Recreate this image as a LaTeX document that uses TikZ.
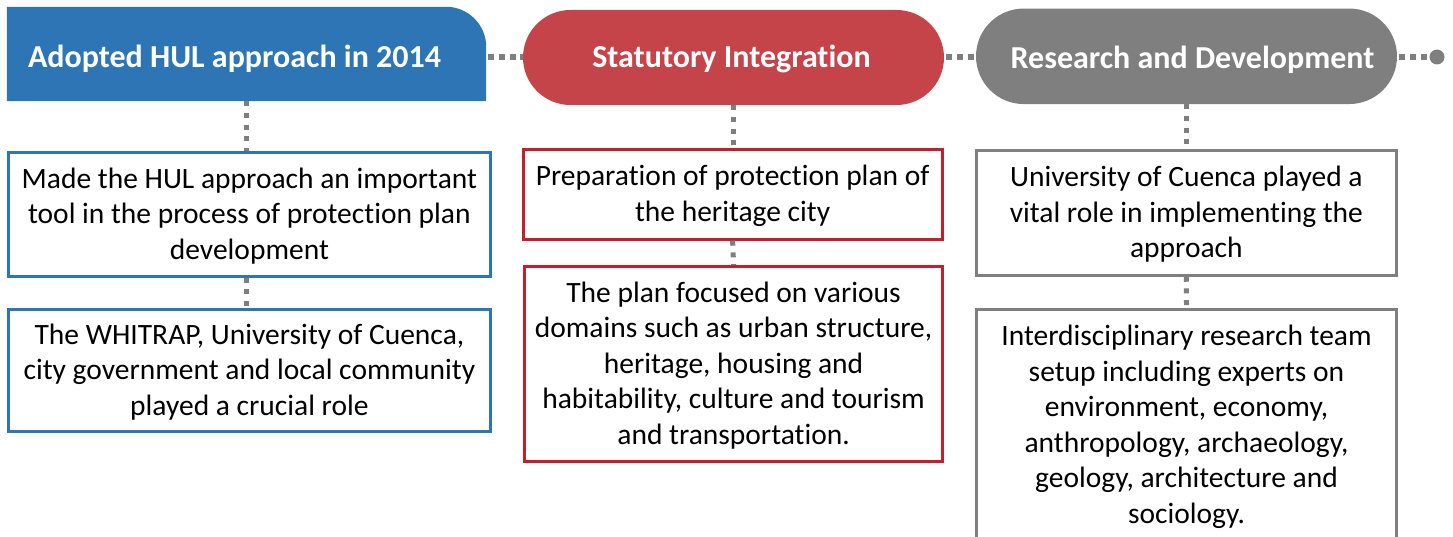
\documentclass[tikz,border=0pt]{standalone}
\usepackage{fontspec}
\setmainfont{Carlito}[Ligatures=NoCommon]
\usetikzlibrary{shapes.misc}
\definecolor{hulblue}{HTML}{2E75B6}
\definecolor{hulred}{HTML}{C44449}
\definecolor{hulredline}{HTML}{C3202F}
\definecolor{hulgray}{HTML}{7F7F7F}
\begin{document}
\begin{tikzpicture}[x=1pt,y=-1pt,
  headtext/.style={font=\fontsize{32}{38}\selectfont\bfseries, text=white, inner sep=0, anchor=base},
  pill/.style={rounded rectangle, minimum width=421pt, minimum height=95pt, inner sep=0},
  textbox/.style={draw, line width=3pt, inner sep=0},
  bodytext/.style={align=center, inner sep=0, font=\fontsize{29.5}{35.5}\selectfont},
  hdots/.style={draw=hulgray, line width=6pt, dash pattern=on 6pt off 4.7pt, dash phase=8.7pt},
  vdots/.style={draw=hulgray, line width=5pt, dash pattern=on 5pt off 6.7pt, dash phase=11.7pt},
]
\useasboundingbox (0,0) rectangle (1453,537);
\clip (0,0) rectangle (1453,537);

% headers
\node (h1) [minimum width=479pt, minimum height=94pt, inner sep=0] at (246.5,54) {};
\fill[hulblue] (h1.south west) -- (h1.north west) -- ([xshift=-40pt]h1.north east)
  .. controls ([xshift=-18pt]h1.north east) and ([yshift=-18pt]h1.north east) .. ([yshift=-40pt]h1.north east)
  -- (h1.south east) -- cycle;
\node (t1) [headtext] at (234.5,67.5) {Adopted HUL approach in 2014};

\node (h2) [pill, fill=hulred] at (733.5,57.5) {};
\node (t2) [headtext] at (731.5,68) {Statutory Integration};

\node (h3) [pill, fill=hulgray, minimum height=95.5pt] at (1186.5,56.3) {};
\node (t3) [headtext] at (1192.5,68.5) {Research and Development};

\node (endc) [circle, fill=hulgray, minimum size=15pt, inner sep=0] at (1437,57) {};

% text boxes
\node (A) [textbox, draw=hulblue, minimum width=481.7pt, minimum height=123.7pt] at (249.4,214.4) {};
\node (tA) [bodytext] at ([yshift=-1.5pt]A.center)
  {Made the HUL approach an important\\tool in the process of protection plan\\development};
\node (B) [textbox, draw=hulblue, minimum width=481.7pt, minimum height=122pt] at (249.4,370.2) {};
\node (tB) [bodytext] at ([yshift=-1.5pt]B.center)
  {The WHITRAP, University of Cuenca,\\city government and local community\\played a crucial role};
\node (C) [textbox, draw=hulredline, minimum width=418.8pt, minimum height=89.4pt] at (732.6,194.5) {};
\node (tC) [bodytext] at ([yshift=-1.5pt]C.center)
  {Preparation of protection plan of\\the heritage city};
\node (D) [textbox, draw=hulredline, minimum width=417.7pt, minimum height=194.7pt] at (733.6,363.9) {};
\node (tD) [bodytext] at ([yshift=-1.5pt]D.center)
  {The plan focused on various\\domains such as urban structure,\\heritage, housing and\\habitability, culture and tourism\\and transportation.};
\node (E) [textbox, draw=hulgray, minimum width=419.7pt, minimum height=124.7pt] at (1186.4,212.9) {};
\node (tE) [bodytext] at ([yshift=-1.5pt]E.center)
  {University of Cuenca played a\\vital role in implementing the\\approach};
\node (F) [textbox, draw=hulgray, minimum width=420pt, minimum height=232pt] at (1186.5,425.5) {};
\node (tF) [bodytext] at ([yshift=-1.5pt]F.center)
  {Interdisciplinary research team\\setup including experts on\\environment, economy,\\anthropology, archaeology,\\geology, architecture and\\sociology.};

% connectors
\draw[hdots] (h1.east |- h2.west) -- (h2.west);
\draw[hdots] (h2.east) -- (h3.west |- h2.east);
\draw[hdots] (h3.east |- endc.west) -- (endc.west);
\draw[vdots] (h1.south) -- (h1.south |- A.north);
\draw[vdots] (A.south -| h1.south) -- (B.north -| h1.south);
\draw[vdots] (h2.south) -- (h2.south |- C.north);
\draw[vdots] (C.south) -- (D.north);
\draw[vdots] (h3.south) -- (h3.south |- E.north);
\draw[vdots] (E.south) -- (F.north);
\end{tikzpicture}
\end{document}
